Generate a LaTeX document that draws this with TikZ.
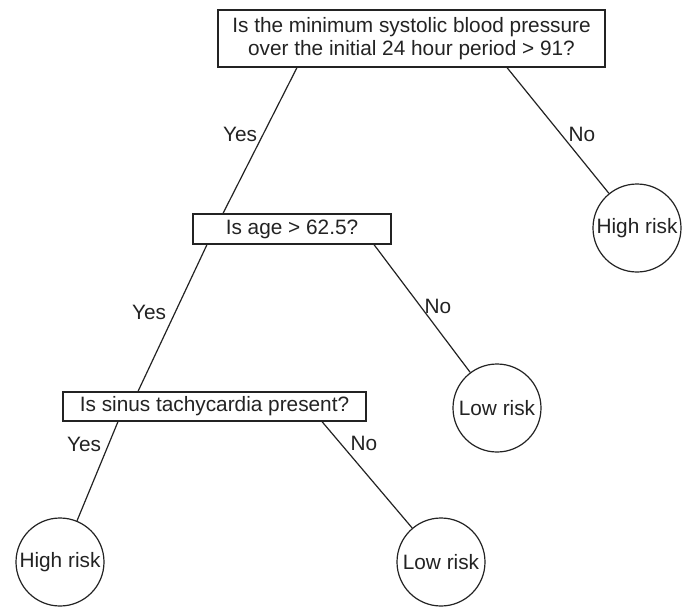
\documentclass[tikz,border=0pt]{standalone}
\usepackage{fontspec}
\setmainfont{Liberation Sans}
\definecolor{ink}{RGB}{35,35,35}
\begin{document}
\begin{tikzpicture}[x=1pt,y=-1pt,
  every node/.style={font=\fontsize{20.8}{23.5}\selectfont, text=ink},
  qbox/.style={draw=ink, line width=1.2pt, inner sep=0pt, align=center},
  leaf/.style={draw=ink, line width=1.2pt, circle, inner sep=0pt, minimum size=88pt},
  edge/.style={draw=ink, line width=1.2pt},
  lab/.style={inner sep=0pt}]
\useasboundingbox (0,0) rectangle (682,608);
\fill[white] (0,0) rectangle (682,608);

% question boxes
\node[qbox, minimum width=387pt, minimum height=57pt] (q1) at (411.5,38.5)
  {Is the minimum systolic blood pressure\\over the initial 24 hour period > 91?};
\node[qbox, minimum width=198pt, minimum height=30pt] (q2) at (292,229) {Is age > 62.5?};
\node[qbox, minimum width=303pt, minimum height=29pt] (q3) at (214.5,406.5) {Is sinus tachycardia present?};

% leaves
\node[leaf] (h1) at (637,228) {High risk};
\node[leaf] (l1) at (497,408) {Low risk};
\node[leaf] (h2) at (60,562) {High risk};
\node[leaf] (l2) at (441,562) {Low risk};

% connectors
\draw[edge] ([xshift=-114.5pt]q1.south) -- ([xshift=-69pt]q2.north);
\draw[edge] ([xshift=95.5pt]q1.south) -- (h1);
\draw[edge] ([xshift=-85pt]q2.south) -- ([xshift=-76.5pt]q3.north);
\draw[edge] ([xshift=82pt]q2.south) -- (l1);
\draw[edge] ([xshift=-96.5pt]q3.south) -- (h2);
\draw[edge] ([xshift=107.5pt]q3.south) -- (l2);

% labels
\node[lab] (y1) at (240,134) {Yes};
\node[lab] (n1) at (582,134) {No};
\node[lab] (y2) at (149,312) {Yes};
\node[lab] (n2) at (438,306) {No};
\node[lab] (y3) at (84,444) {Yes};
\node[lab] (n3) at (364,443) {No};
\end{tikzpicture}
\end{document}
